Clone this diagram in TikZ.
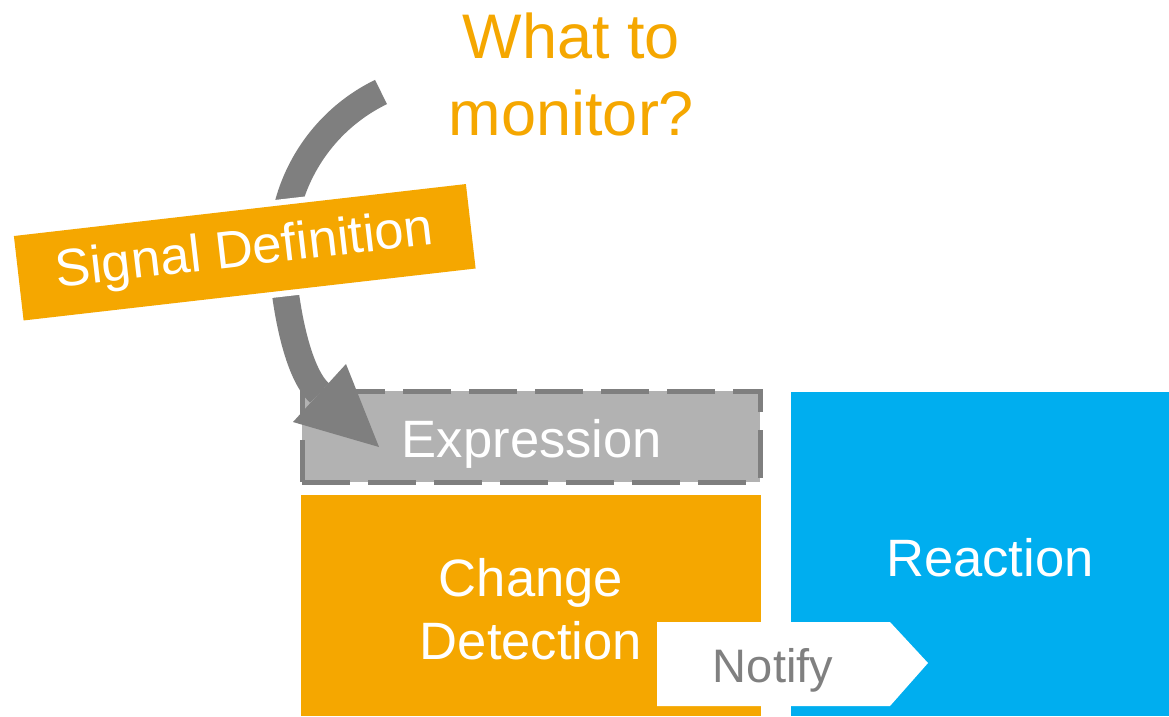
\documentclass[tikz,border=0pt]{standalone}
\usepackage{fontspec}
\setmainfont{Liberation Sans}
\usetikzlibrary{arrows.meta}
\definecolor{cOrange}{HTML}{F5A700}
\definecolor{cBlue}{HTML}{00AEEF}
\definecolor{cGrayLine}{HTML}{7F7F7F}
\definecolor{cGrayFill}{HTML}{B2B2B2}
\definecolor{cText}{HTML}{808080}
\begin{document}
\begin{tikzpicture}[x=1pt,y=-1pt,
  blockbox/.style={inner sep=0pt, outer sep=0pt, anchor=north west},
  bigtext/.style={anchor=base, inner sep=0pt, text=white, font=\fontsize{52.6}{63}\selectfont},
  titletext/.style={anchor=base, inner sep=0pt, text=cOrange, font=\fontsize{63}{77}\selectfont},
  arrowgray/.style={cGrayLine, line width=27pt}
]
\useasboundingbox[fill=white] (0,0) rectangle (1169,716);

% blocks
\node[blockbox, fill=cBlue, minimum width=378pt, minimum height=324pt] (reactbox) at (791,392) {};
\node[blockbox, fill=cOrange, minimum width=460pt, minimum height=221pt] (changebox) at (301,495) {};
\node[blockbox, fill=cGrayFill, draw=cGrayLine, line width=5pt, dash pattern=on 48pt off 18pt,
      minimum width=458pt, minimum height=91pt] (exprbox) at (302,391) {};

% notify pentagon
\fill[white] (657,622) -- (890,622) -- (928,663) -- (890,706) -- (657,706) -- cycle;

% texts in blocks
\node[bigtext] (reacttxt) at (990,576) {Reaction};
\node[bigtext] (changetxt) at (531,596) {Change};
\node[bigtext] (detecttxt) at (531,659) {Detection};
\node[bigtext] (exprtxt) at (532,457) {Expression};
\node[anchor=base, inner sep=0pt, text=cText, font=\fontsize{47}{56}\selectfont] (notify) at (773,682) {Notify};

% curved arrow
\coordinate (arrS) at (381,92);
\coordinate (arrM) at (282,250);
\coordinate (arrB) at (319.5,393);
\coordinate (arrT) at (379,447);
\coordinate (arrL) at (293,422);
\coordinate (arrR) at (346,364);
\draw[arrowgray] (arrS) .. controls (320.6,121.3) and (282,182.9) .. (arrM)
                        .. controls (282,285) and (293.5,369.4) .. (arrB);
\fill[cGrayLine] (arrL) -- (arrT) -- (arrR) -- cycle;

% signal definition label
\node[rotate=6.56, fill=cOrange, preaction={draw=white, line width=12pt},
      minimum width=455pt, minimum height=85pt, inner sep=0pt, text=white,
      font=\fontsize{52.6}{63}\selectfont] (sigdef) at (244.75,252.25) {Signal Definition};

% title
\node[titletext] (what1) at (571.5,58) {What to};
\node[titletext] (what2) at (571.5,135) {monitor?};
\end{tikzpicture}
\end{document}
